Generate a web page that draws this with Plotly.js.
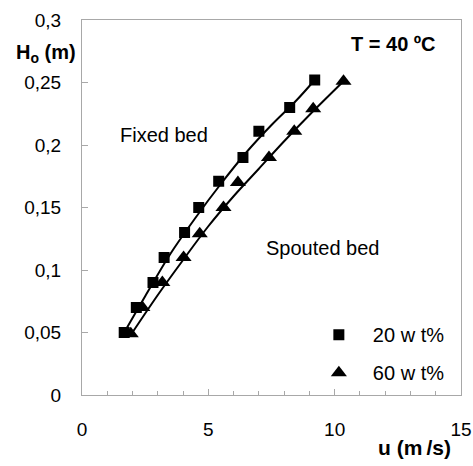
<!DOCTYPE html>
<html><head><meta charset="utf-8">
<script src="https://cdn.plot.ly/plotly-3.0.1.min.js"></script>
<style>body{margin:0;background:#fff}#c{width:473px;height:466px}</style>
</head><body><div id="c"></div>
<script>
// measured points
const u20 = [1.67, 2.15, 2.81, 3.25, 4.06, 4.62, 5.41, 6.37, 7.0, 8.22, 9.21];
const h20 = [0.05, 0.07, 0.09, 0.11, 0.13, 0.15, 0.171, 0.19, 0.211, 0.23, 0.252];
const u60 = [1.93, 2.39, 3.18, 4.02, 4.66, 5.6, 6.17, 7.4, 8.4, 9.15, 10.35];
const h60 = [0.049, 0.07, 0.09, 0.11, 0.129, 0.15, 0.17, 0.19, 0.211, 0.229, 0.251];
// trend lines
const lineU20 = [1.67, 2.5, 3.5, 4.5, 5.5, 6.5, 7.5, 8.5, 9.21];
const lineH20 = [0.05, 0.079, 0.113, 0.142, 0.169, 0.194, 0.216, 0.236, 0.252];
const lineU60 = [1.93, 3.0, 4.0, 5.0, 6.0, 7.0, 8.0, 9.0, 10.35];
const lineH60 = [0.048, 0.080, 0.108, 0.135, 0.159, 0.181, 0.203, 0.224, 0.251];
const names = ['20 w t%', '60 w t%'];
const xTicks = [0, 5, 10, 15];
const yTicks = [0, 0.05, 0.1, 0.15, 0.2, 0.25, 0.3];

const F = 'Liberation Sans, Arial, sans-serif';
const lineStyle = {shape:'spline', smoothing:1, color:'#000', width:2};
const traces = [
  {x:lineU20, y:lineH20, mode:'lines', line:lineStyle, showlegend:false, hoverinfo:'skip'},
  {x:lineU60, y:lineH60, mode:'lines', line:lineStyle, showlegend:false, hoverinfo:'skip'},
  {x:u20, y:h20, name:names[0], legendgroup:'a', mode:'markers', marker:{symbol:'square', size:11, color:'#000'}},
  {x:u60, y:h60, name:names[1], legendgroup:'b', mode:'markers', marker:{symbol:'triangle-up', size:14, color:'#000'}}
];
const axBase = {showgrid:false, zeroline:false, showline:true, linecolor:'#a8a8a8', linewidth:1, mirror:true,
  ticks:'inside', tickcolor:'#a8a8a8', ticklen:6, tickfont:{family:F, size:19, color:'#000'}};
const layout = {
  width:473, height:466, margin:{l:82, r:12, t:20, b:71},
  paper_bgcolor:'#fff', plot_bgcolor:'#fff', separators:', ',
  showlegend:true,
  legend:{x:0.588, xanchor:'left', y:0.213, yanchor:'top', bgcolor:'rgba(0,0,0,0)', font:{family:F, size:20, color:'#000'},
    itemwidth:58, traceorder:'grouped', tracegroupgap:9, itemclick:false},
  xaxis:Object.assign({}, axBase, {range:[0,15], tickvals:xTicks, ticktext:xTicks.map(String), ticklabelstandoff:17,
    minor:{dtick:1, ticks:'inside', ticklen:4, tickcolor:'#a8a8a8'}}),
  yaxis:Object.assign({}, axBase, {range:[0,0.3], tickvals:yTicks, ticktext:yTicks.map(v=>String(v).replace('.',',')), ticklabelstandoff:16}),
  annotations:[
    {xref:'paper', yref:'paper', x:-0.179, y:0.91, xanchor:'left', yanchor:'middle', showarrow:false,
     text:'<b>H<sub>o</sub> (m)</b>', font:{family:F, size:20, color:'#000'}},
    {xref:'paper', yref:'paper', x:0.979, y:-0.141, xanchor:'right', yanchor:'middle', showarrow:false,
     text:'<b>u (m\u2009/s)</b>', font:{family:F, size:21, color:'#000'}},
    {xref:'paper', yref:'paper', x:0.939, y:0.937, xanchor:'right', yanchor:'middle', showarrow:false,
     text:'<b>T = 40 ºC</b>', font:{family:F, size:20, color:'#000'}},
    {xref:'x', yref:'y', x:3.26, y:0.208, showarrow:false, text:'Fixed bed', font:{family:F, size:20, color:'#000'}},
    {xref:'x', yref:'y', x:9.51, y:0.1176, showarrow:false, text:'Spouted bed', font:{family:F, size:20, color:'#000'}}
  ]
};
Plotly.newPlot('c', traces, layout, {displayModeBar:false, staticPlot:true});
</script></body></html>
